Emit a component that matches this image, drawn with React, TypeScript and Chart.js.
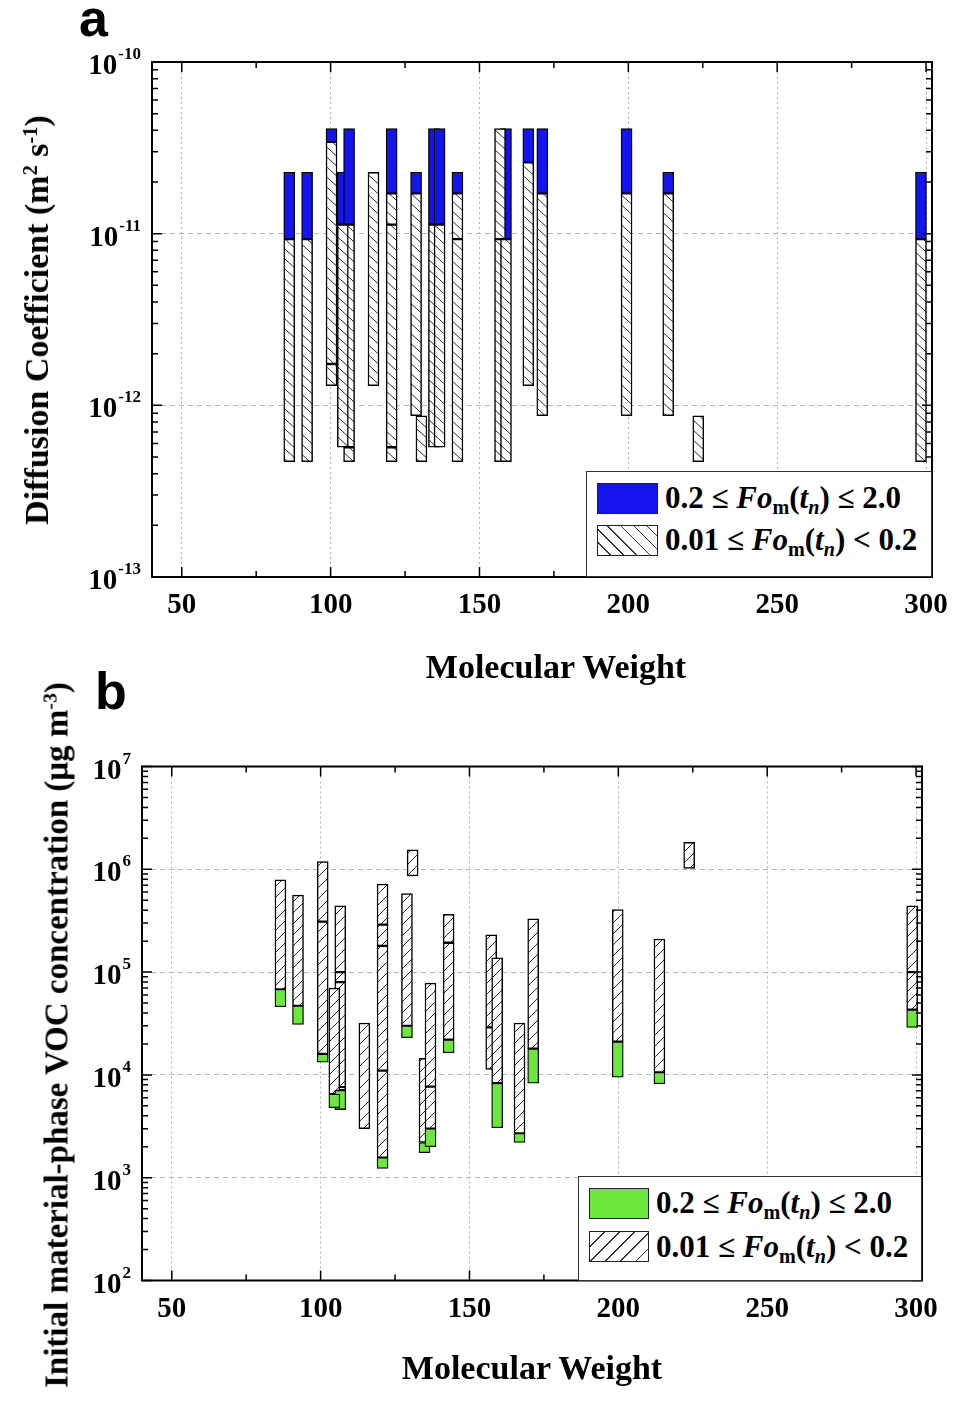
import React, { useEffect, useRef } from 'react';
import { Chart, registerables } from 'chart.js';

Chart.register(...registerables);

// ---------- Panel a: diffusion coefficient ranges (m² s⁻¹) ----------
// 0.2 ≤ Fo_m(t_n) ≤ 2.0 (solid blue)
const diffFastMW = [86.1, 92.1, 100.3, 104.1, 106.2, 120.5, 128.7, 134.7, 136.6, 142.6, 158.9, 166.4, 171.1, 199.4, 213.4, 298.3];
const diffFastLow = [9.3e-12, 9.3e-12, 3.43e-11, 1.13e-11, 1.13e-11, 1.72e-11, 1.72e-11, 1.13e-11, 1.13e-11, 1.72e-11, 9.3e-12, 2.6e-11, 1.72e-11, 1.72e-11, 1.72e-11, 9.3e-12];
const diffFastHigh = [2.28e-11, 2.28e-11, 4.1e-11, 2.28e-11, 4.1e-11, 4.1e-11, 2.28e-11, 4.1e-11, 4.1e-11, 2.28e-11, 4.1e-11, 4.1e-11, 4.1e-11, 4.1e-11, 2.28e-11, 2.28e-11];

// 0.01 ≤ Fo_m(t_n) < 0.2 (hatched)
const diffSlowMW = [86.1, 92.1, 100.3, 100.3, 106.2, 106.2, 104.1, 114.4, 120.5, 120.5, 120.5, 128.7, 130.5, 134.7, 136.6, 142.6, 142.6, 156.9, 156.9, 158.9, 166.4, 171.1, 199.4, 213.4, 223.5, 298.3];
const diffSlowLow = [4.7e-13, 4.7e-13, 1.3e-12, 1.74e-12, 4.7e-13, 5.7e-13, 5.7e-13, 1.3e-12, 4.7e-13, 5.7e-13, 1.13e-11, 8.7e-13, 4.7e-13, 5.7e-13, 5.7e-13, 4.7e-13, 9.3e-12, 4.7e-13, 9.3e-12, 4.7e-13, 1.3e-12, 8.7e-13, 8.7e-13, 8.7e-13, 4.7e-13, 4.7e-13];
const diffSlowHigh = [9.3e-12, 9.3e-12, 1.74e-12, 3.43e-11, 5.7e-13, 1.13e-11, 1.13e-11, 2.28e-11, 5.7e-13, 1.13e-11, 1.72e-11, 1.72e-11, 8.7e-13, 1.13e-11, 1.13e-11, 9.3e-12, 1.72e-11, 9.3e-12, 4.1e-11, 9.3e-12, 2.6e-11, 1.72e-11, 1.72e-11, 1.72e-11, 8.7e-13, 9.3e-12];

// ---------- Panel b: initial material-phase concentration (μg m⁻³) ----------
const concFastMW = [86.5, 92.4, 100.7, 106.6, 104.6, 120.8, 129.0, 134.9, 136.9, 143.0, 159.3, 166.8, 171.4, 199.8, 213.8, 298.7];
const concFastLow = [4.6e4, 3.1e4, 1.33e4, 4.6e3, 4.8e3, 1.23e3, 2.3e4, 1.75e3, 2.0e3, 1.64e4, 3.06e3, 2.2e3, 8.3e3, 9.5e3, 8.2e3, 2.9e4];
const concFastHigh = [6.8e4, 4.7e4, 1.6e4, 7.1e3, 6.5e3, 1.57e3, 3.0e4, 2.2e3, 3.0e3, 2.2e4, 8.3e3, 2.7e3, 1.8e4, 2.1e4, 1.06e4, 4.3e4];

const concSlowMW = [86.5, 92.4, 100.7, 100.7, 106.6, 106.6, 106.6, 106.6, 104.6, 114.7, 120.8, 120.8, 120.8, 120.8, 129.0, 130.9, 134.9, 136.9, 136.9, 143.0, 143.0, 157.3, 157.3, 159.3, 166.8, 171.4, 199.8, 213.8, 223.8, 298.7, 298.7];
const concSlowLow = [6.8e4, 4.7e4, 1.6e4, 3.1e5, 7.1e3, 7.6e3, 8.0e4, 1.0e5, 6.5e3, 3.0e3, 1.57e3, 1.1e4, 1.8e5, 2.9e5, 3.0e4, 8.6e5, 2.2e3, 3.0e3, 7.7e3, 2.2e4, 1.93e5, 1.13e4, 2.9e4, 8.3e3, 2.7e3, 1.8e4, 2.1e4, 1.06e4, 1.02e6, 4.3e4, 1.0e5];
const concSlowHigh = [7.9e5, 5.6e5, 3.1e5, 1.19e6, 7.6e3, 8.0e4, 1.0e5, 4.4e5, 7.0e4, 3.2e4, 1.1e4, 1.8e5, 2.9e5, 7.2e5, 5.8e5, 1.55e6, 1.45e4, 7.7e3, 7.8e4, 1.93e5, 3.65e5, 2.9e4, 2.3e5, 1.38e5, 3.2e4, 3.3e5, 4.05e5, 2.1e5, 1.83e6, 1.0e5, 4.4e5];

// ---------- axes ----------
const mwTicks = [50, 100, 150, 200, 250, 300];
const mwMinorTicks = [75, 125, 175, 225, 275];
const diffDecades = [1e-13, 1e-12, 1e-11, 1e-10];
const concDecades = [1e2, 1e3, 1e4, 1e5, 1e6, 1e7];

const SERIF = '"Liberation Serif", "Times New Roman", Times, serif';
const SANS = '"Liberation Sans", Arial, Helvetica, sans-serif';

function makeHatch(ctx: CanvasRenderingContext2D, dir: 'down' | 'up', w: number, h: number) {
  const tile = document.createElement('canvas');
  tile.width = w;
  tile.height = h;
  const g = tile.getContext('2d')!;
  g.fillStyle = '#ffffff';
  g.fillRect(0, 0, w, h);
  g.strokeStyle = '#2b2b2b';
  g.lineWidth = 1;
  g.beginPath();
  for (const k of [-w, 0, w]) {
    if (dir === 'down') {
      g.moveTo(k, 0);
      g.lineTo(k + w, h);
    } else {
      g.moveTo(k, h);
      g.lineTo(k + w, 0);
    }
  }
  g.stroke();
  return ctx.createPattern(tile, 'repeat')!;
}

type Series = { mw: number[]; lo: number[]; hi: number[] };

type PanelProps = {
  top: number;
  height: number;
  padding: { left: number; top: number; right: number; bottom: number };
  decades: number[];
  solid: Series;
  hatched: Series;
  solidColor: string;
  hatchDir: 'down' | 'up';
  tile: [number, number];
  solidOnTop: boolean;
};

function RangePanel(p: PanelProps) {
  const ref = useRef<HTMLCanvasElement>(null);

  useEffect(() => {
    const canvas = ref.current!;
    const ctx = canvas.getContext('2d')!;
    const hatch = makeHatch(ctx, p.hatchDir, p.tile[0], p.tile[1]);
    const toPoints = (s: Series) => s.mw.map((x, i) => ({ x, y: [s.lo[i], s.hi[i]] }));

    const common = { borderSkipped: false, barThickness: 11, grouped: false, borderColor: '#000' };
    const solidSet: any = { label: 'solid', data: toPoints(p.solid), backgroundColor: p.solidColor, borderWidth: 1.3, ...common };
    const hatchSet: any = { label: 'hatched', data: toPoints(p.hatched), backgroundColor: hatch, borderWidth: 1.5, ...common };
    const datasets = p.solidOnTop ? [solidSet, hatchSet] : [hatchSet, solidSet];

    const decades = p.decades;
    const frameTicksLabels = {
      id: 'frameTicksLabels',
      afterDraw(chart: any) {
        const c: CanvasRenderingContext2D = chart.ctx;
        const a = chart.chartArea;
        const xs = chart.scales.x;
        const ys = chart.scales.y;
        c.save();
        c.strokeStyle = '#000';
        c.lineWidth = 1.5;
        c.beginPath();
        const tickX = (v: number, len: number) => {
          const px = xs.getPixelForValue(v);
          c.moveTo(px, a.bottom);
          c.lineTo(px, a.bottom - len);
          c.moveTo(px, a.top);
          c.lineTo(px, a.top + len);
        };
        const tickY = (v: number, len: number) => {
          const py = ys.getPixelForValue(v);
          c.moveTo(a.left, py);
          c.lineTo(a.left + len, py);
          c.moveTo(a.right, py);
          c.lineTo(a.right - len, py);
        };
        mwTicks.forEach((v) => tickX(v, 10));
        mwMinorTicks.forEach((v) => tickX(v, 6));
        decades.forEach((d, i) => {
          tickY(d, 10);
          if (i < decades.length - 1) {
            for (let k = 2; k <= 9; k++) tickY(d * k, 6);
          }
        });
        c.stroke();

        c.lineWidth = 2;
        c.strokeRect(a.left, a.top, a.right - a.left, a.bottom - a.top);

        c.fillStyle = '#000';
        c.textBaseline = 'alphabetic';
        c.textAlign = 'center';
        c.font = `bold 29px ${SERIF}`;
        mwTicks.forEach((v) => c.fillText(String(v), xs.getPixelForValue(v), a.bottom + 36));

        c.textAlign = 'right';
        decades.forEach((d) => {
          const e = String(Math.round(Math.log10(d)));
          const py = ys.getPixelForValue(d);
          const right = a.left - 11;
          c.font = `bold 17px ${SERIF}`;
          const ew = c.measureText(e).width;
          c.fillText(e, right, py - 3);
          c.font = `bold 29px ${SERIF}`;
          c.fillText('10', right - ew - 1, py + 12);
        });
        c.restore();
      },
    };

    const chart = new Chart(canvas, {
      type: 'bar',
      data: { datasets },
      options: {
        animation: false,
        responsive: false,
        maintainAspectRatio: false,
        devicePixelRatio: 1,
        layout: { padding: p.padding },
        plugins: { legend: { display: false }, tooltip: { enabled: false } },
        scales: {
          x: {
            type: 'linear',
            min: 40,
            max: 302,
            offset: false,
            grid: { offset: false, color: '#b4b4b4', lineWidth: 1, drawTicks: false },
            border: { display: false, dash: [2, 3] },
            ticks: { display: false },
            afterBuildTicks: (s: any) => {
              s.ticks = mwTicks.map((v) => ({ value: v }));
            },
          },
          y: {
            type: 'logarithmic',
            min: decades[0],
            max: decades[decades.length - 1],
            grid: { color: '#b4b4b4', lineWidth: 1, drawTicks: false },
            border: { display: false, dash: [5, 4] },
            ticks: { display: false },
            afterBuildTicks: (s: any) => {
              s.ticks = decades.map((v) => ({ value: v }));
            },
          },
        },
      } as any,
      plugins: [frameTicksLabels],
    });
    return () => chart.destroy();
  }, []);

  return (
    <canvas
      ref={ref}
      width={962}
      height={p.height}
      style={{ position: 'absolute', left: 0, top: p.top, width: 962, height: p.height }}
    />
  );
}

const subStyle: React.CSSProperties = { fontSize: '0.65em', position: 'relative', top: '0.3em' };
const supStyle: React.CSSProperties = { fontSize: '0.6em', position: 'relative', top: '-0.55em' };

function FoRange({ text1, text2 }: { text1: string; text2: string }) {
  return (
    <span>
      {text1}
      <i>Fo</i>
      <span style={subStyle}>m</span>(<i>t</i>
      <i style={subStyle}>n</i>){text2}
    </span>
  );
}

function Legend(props: {
  left: number;
  top: number;
  width: number;
  height: number;
  swatchW: number;
  swatchH: number;
  swatch2Top: number;
  textLeft: number;
  base1: number;
  base2: number;
  solidColor: string;
  hatchCss: string;
}) {
  const fs = 31;
  const textTop = (b: number) => b - 0.8375 * fs;
  const txt: React.CSSProperties = {
    position: 'absolute',
    left: props.textLeft,
    fontFamily: SERIF,
    fontWeight: 'bold',
    fontSize: fs,
    lineHeight: `${fs}px`,
    whiteSpace: 'nowrap',
    color: '#000',
  };
  return (
    <div
      style={{
        position: 'absolute',
        left: props.left,
        top: props.top,
        width: props.width,
        height: props.height,
        boxSizing: 'border-box',
        border: '1px solid #333',
        background: '#fff',
      }}
    >
      <div
        style={{
          position: 'absolute',
          left: 10,
          top: 11,
          width: props.swatchW,
          height: props.swatchH,
          boxSizing: 'border-box',
          border: '1px solid #222',
          background: props.solidColor,
        }}
      />
      <div
        style={{
          position: 'absolute',
          left: 10,
          top: props.swatch2Top,
          width: props.swatchW,
          height: props.swatchH,
          boxSizing: 'border-box',
          border: '1px solid #222',
          background: props.hatchCss,
        }}
      />
      <div style={{ ...txt, top: textTop(props.base1) }}>
        <FoRange text1="0.2 ≤ " text2=" ≤ 2.0" />
      </div>
      <div style={{ ...txt, top: textTop(props.base2) }}>
        <FoRange text1="0.01 ≤ " text2=" < 0.2" />
      </div>
    </div>
  );
}

const titleBase: React.CSSProperties = {
  position: 'absolute',
  fontFamily: SERIF,
  fontWeight: 'bold',
  whiteSpace: 'nowrap',
  color: '#000',
  lineHeight: 1,
};

export default function App() {
  return (
    <div
      style={{
        position: 'absolute',
        left: 0,
        top: 0,
        width: 962,
        height: 1407,
        background: '#fff',
        overflow: 'hidden',
      }}
    >
      <RangePanel
        top={0}
        height={650}
        padding={{ left: 152, top: 62, right: 30, bottom: 73 }}
        decades={diffDecades}
        solid={{ mw: diffFastMW, lo: diffFastLow, hi: diffFastHigh }}
        hatched={{ mw: diffSlowMW, lo: diffSlowLow, hi: diffSlowHigh }}
        solidColor="#1414ee"
        hatchDir="down"
        tile={[11, 10]}
        solidOnTop={false}
      />
      <RangePanel
        top={700}
        height={650}
        padding={{ left: 142, top: 66.5, right: 40, bottom: 69.5 }}
        decades={concDecades}
        solid={{ mw: concFastMW, lo: concFastLow, hi: concFastHigh }}
        hatched={{ mw: concSlowMW, lo: concSlowLow, hi: concSlowHigh }}
        solidColor="#6ce83c"
        hatchDir="up"
        tile={[11, 11]}
        solidOnTop={true}
      />

      {/* panel letters */}
      <div style={{ position: 'absolute', left: 79, top: -8, fontFamily: SANS, fontWeight: 'bold', fontSize: 52, lineHeight: '52px' }}>a</div>
      <div style={{ position: 'absolute', left: 95, top: 665, fontFamily: SANS, fontWeight: 'bold', fontSize: 52, lineHeight: '52px' }}>b</div>

      {/* axis titles */}
      <div style={{ ...titleBase, fontSize: 34, left: 37, top: 320, transform: 'translate(-50%, -50%) rotate(-90deg)' }}>
        Diffusion Coefficient (m<span style={supStyle}>2</span> s<span style={supStyle}>-1</span>)
      </div>
      <div style={{ ...titleBase, fontSize: 34, left: 556, top: 667, transform: 'translate(-50%, -50%)' }}>Molecular Weight</div>

      <div style={{ ...titleBase, fontSize: 33, left: 57, top: 1035, transform: 'translate(-50%, -50%) rotate(-90deg)' }}>
        Initial material-phase VOC concentration (μg m<span style={supStyle}>-3</span>)
      </div>
      <div style={{ ...titleBase, fontSize: 34, left: 532, top: 1368, transform: 'translate(-50%, -50%)' }}>Molecular Weight</div>

      {/* legends */}
      <Legend
        left={586}
        top={471}
        width={346}
        height={106}
        swatchW={61}
        swatchH={31}
        swatch2Top={53}
        textLeft={78}
        base1={36}
        base2={78}
        solidColor="#1414ee"
        hatchCss="repeating-linear-gradient(45deg, #fff 0px, #fff 8.2px, #333 8.2px, #333 9.3px)"
      />
      <Legend
        left={578}
        top={1176}
        width={344}
        height={105}
        swatchW={60}
        swatchH={31}
        swatch2Top={54}
        textLeft={77}
        base1={36}
        base2={80}
        solidColor="#6ce83c"
        hatchCss="repeating-linear-gradient(135deg, #fff 0px, #fff 9.6px, #333 9.6px, #333 10.7px)"
      />
    </div>
  );
}
